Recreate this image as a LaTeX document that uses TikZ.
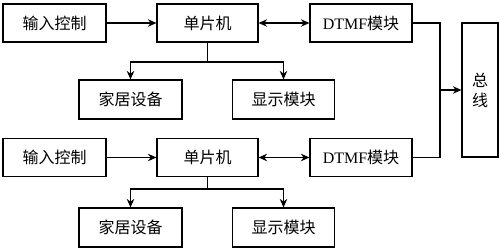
\documentclass[tikz,border=0pt]{standalone}
\usepackage{fontspec}
\setmainfont{Liberation Serif}
\newfontfamily\cjk{Noto Sans CJK SC}
\usetikzlibrary{arrows.meta}
\begin{document}
\begin{tikzpicture}[x=1pt,y=-1pt,
  box/.style={draw,line width=1.2pt,inner sep=0pt,font=\fontsize{16}{19}\selectfont\cjk},
  ln/.style={line width=1.2pt},
  arr/.style={line width=1.2pt,-{Stealth[length=8.5pt,width=7.5pt]}},
  darr/.style={line width=1.2pt,{Stealth[length=8.5pt,width=7.5pt]}-{Stealth[length=8.5pt,width=7.5pt]}}]
\useasboundingbox (0,0) rectangle (500,249);
% top group
\node[box,minimum width=103pt,minimum height=38pt] (in1) at (54.5,23) {输入控制};
\node[box,minimum width=101pt,minimum height=38pt] (mcu1) at (207.5,23) {单片机};
\node[box,minimum width=102pt,minimum height=38pt] (dtmf1) at (361,23) {{\rmfamily DTMF}模块};
\node[box,minimum width=103pt,minimum height=39pt] (home1) at (130.5,99.5) {家居设备};
\node[box,minimum width=102pt,minimum height=39pt] (disp1) at (283.5,99.5) {显示模块};
% bottom group
\node[box,minimum width=103pt,minimum height=38pt] (in2) at (54.5,157.5) {输入控制};
\node[box,minimum width=101pt,minimum height=38pt] (mcu2) at (207.5,157.5) {单片机};
\node[box,minimum width=102pt,minimum height=38pt] (dtmf2) at (361,157.5) {{\rmfamily DTMF}模块};
\node[box,minimum width=103pt,minimum height=39pt] (home2) at (130.5,227.5) {家居设备};
\node[box,minimum width=102pt,minimum height=39pt] (disp2) at (283.5,227.5) {显示模块};
% bus
\node[box,minimum width=36pt,minimum height=134pt,align=center,font=\fontsize{16}{20}\selectfont\cjk] (bus) at (480,90) {总\\线};
% junctions
\coordinate (j1) at (207.5,62);
\coordinate (j2) at (207.5,189);
\coordinate (k) at (440,90);
% connectors
\draw[arr] (in1.east) -- (mcu1.west);
\draw[darr] (mcu1.east) -- (dtmf1.west);
\draw[ln] (mcu1.south) -- (j1);
\draw[arr] (j1) -| (home1.north);
\draw[arr] (j1) -| (disp1.north);
\draw[arr] (in2.east) -- (mcu2.west);
\draw[darr] (mcu2.east) -- (dtmf2.west);
\draw[ln] (mcu2.south) -- (j2);
\draw[arr] (j2) -| (home2.north);
\draw[arr] (j2) -| (disp2.north);
\draw[ln] (dtmf1.east) -| (k);
\draw[ln] (dtmf2.east) -| (k);
\draw[arr] (k) -- (bus.west);
\end{tikzpicture}
\end{document}
